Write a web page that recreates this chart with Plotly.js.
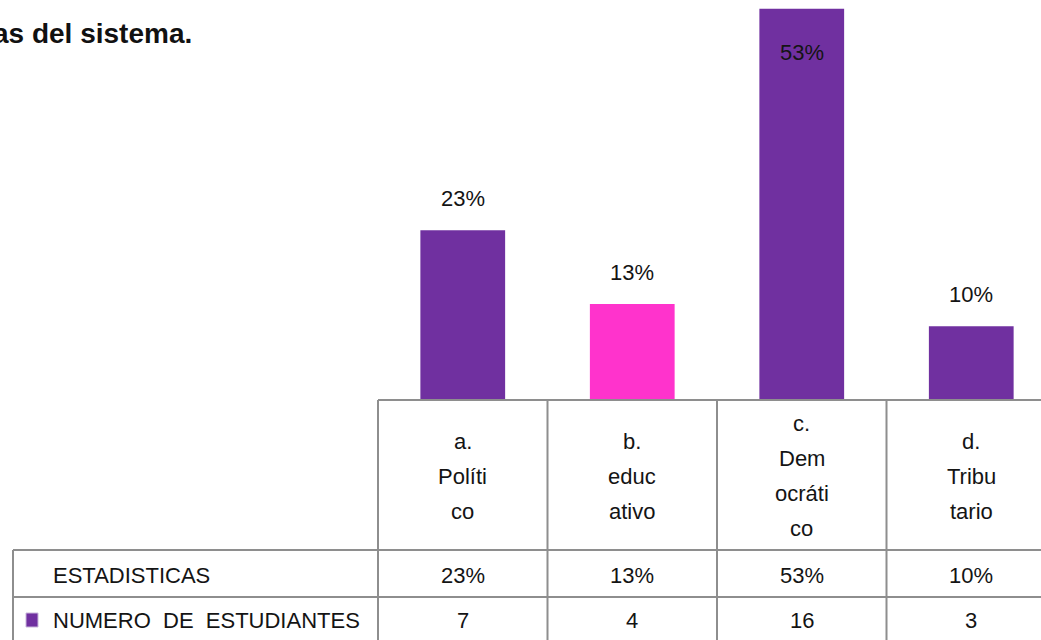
<!DOCTYPE html>
<html>
<head>
<meta charset="utf-8">
<script src="https://cdn.plot.ly/plotly-3.0.1.min.js"></script>
<style>
  html, body { margin: 0; padding: 0; overflow: hidden; background: #fff; }
  #chart { width: 1070px; height: 640px; }
</style>
</head>
<body>
<div id="chart"></div>
<script>
// ---- data ----
const categories = ["a. Político", "b. educativo", "c. Democrático", "d. Tributario"];
const categoryLines = [["a.", "Políti", "co"], ["b.", "educ", "ativo"], ["c.", "Dem", "ocráti", "co"], ["d.", "Tribu", "tario"]];
const percentages = [23, 13, 53, 10];
const percentLabels = ["23%", "13%", "53%", "10%"];
const students = [7, 4, 16, 3];
const barColors = ["#7030A0", "#FF33CC", "#7030A0", "#7030A0"];
const rowNames = ["ESTADISTICAS", "NUMERO  DE  ESTUDIANTES"];
const titleText = "as del sistema.";

// ---- geometry (layout only) ----
const L = 378, PW = 678, PH = 400, R = 14, W = 1070, H = 640;
const yMax = 54.2;
const px2x = px => (px - L) / PW;
const py2y = py => (PH - py) / PH;
const FONT = "Liberation Sans, Arial, sans-serif";
const FS = 22;
const TXT = "#141414";
const GRID = "#8e8e8e";

const trace = {
  type: "bar",
  x: categories,
  y: percentages,
  marker: { color: barColors, line: { width: 0 } },
  hoverinfo: "skip",
  showlegend: false
};

const annotations = [];
const shapes = [];

// value labels over bars
percentages.forEach((v, i) => {
  const topPx = PH - v / yMax * PH;
  let labelPx = topPx - 32;
  if (labelPx < 52) labelPx = 52; // clamp inside chart area
  annotations.push({
    xref: "x", yref: "paper", x: categories[i], y: py2y(labelPx),
    text: percentLabels[i], showarrow: false, xanchor: "center", yanchor: "middle",
    font: { family: FONT, size: FS, color: TXT }
  });
});

// header row category labels (multi-line with wide spacing)
const headerCenter = 476, lineGap = 35;
categoryLines.forEach((lines, i) => {
  const n = lines.length;
  lines.forEach((t, j) => {
    const py = headerCenter + (j - (n - 1) / 2) * lineGap;
    annotations.push({
      xref: "x", yref: "paper", x: categories[i], y: py2y(py),
      text: t, showarrow: false, xanchor: "center", yanchor: "middle",
      font: { family: FONT, size: FS, color: TXT }
    });
  });
});

// table rows
const rowCenters = [575, 620];
const rowValues = [percentLabels, students.map(String)];
rowValues.forEach((vals, r) => {
  vals.forEach((t, i) => {
    annotations.push({
      xref: "x", yref: "paper", x: categories[i], y: py2y(rowCenters[r]),
      text: t, showarrow: false, xanchor: "center", yanchor: "middle",
      font: { family: FONT, size: FS, color: TXT }
    });
  });
  annotations.push({
    xref: "paper", yref: "paper", x: px2x(51), y: py2y(rowCenters[r]),
    text: rowNames[r], showarrow: false, xanchor: "left", yanchor: "middle",
    font: { family: FONT, size: FS, color: TXT }
  });
});

// title fragment
annotations.push({
  xref: "paper", yref: "paper", x: px2x(194), y: py2y(34),
  text: "<b>" + titleText + "</b>", showarrow: false, xanchor: "right", yanchor: "middle",
  font: { family: FONT, size: 28, color: "#111" }
});

// table lines
const line = (x0, y0, x1, y1) => shapes.push({
  type: "line", xref: "paper", yref: "paper",
  x0: px2x(x0), y0: py2y(y0), x1: px2x(x1), y1: py2y(y1),
  line: { color: GRID, width: 2 }
});
line(L, 400, W, 400);
line(13, 550, W, 550);
line(13, 597, W, 597);
line(13, 550, 13, 660);
for (let i = 0; i <= categories.length; i++) {
  const xpx = L + i * PW / categories.length;
  line(xpx, 400, xpx, 660);
}

// legend key
shapes.push({
  type: "rect", xref: "paper", yref: "paper",
  x0: px2x(26), x1: px2x(38), y0: py2y(613), y1: py2y(627),
  fillcolor: "#7030A0", line: { color: "#c9b6db", width: 1 }
});

const layout = {
  width: W, height: H,
  margin: { l: L, r: R, t: 0, b: H - PH, pad: 0 },
  paper_bgcolor: "#fff", plot_bgcolor: "#fff",
  bargap: 0.5,
  xaxis: { showticklabels: false, showgrid: false, zeroline: false, showline: false, ticks: "", fixedrange: true },
  yaxis: { range: [0, yMax], visible: false, showgrid: false, zeroline: false, fixedrange: true },
  annotations: annotations,
  shapes: shapes,
  showlegend: false
};

Plotly.newPlot("chart", [trace], layout, { displayModeBar: false, staticPlot: true });
</script>
</body>
</html>
